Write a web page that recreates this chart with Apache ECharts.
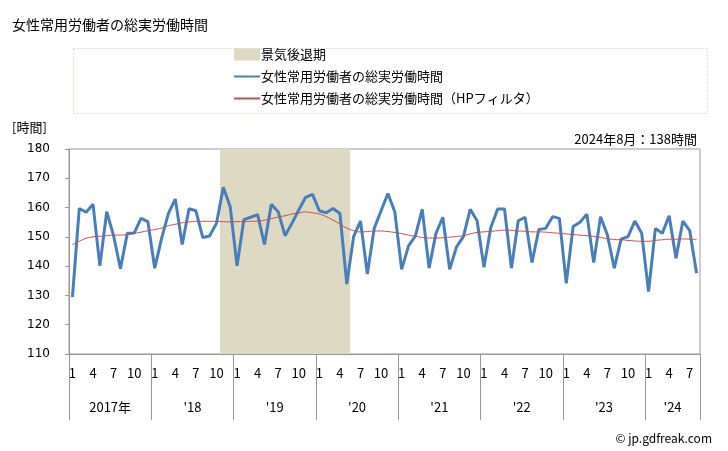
<!DOCTYPE html>
<html>
<head>
<meta charset="utf-8">
<script src="https://cdn.jsdelivr.net/npm/echarts@6/dist/echarts.min.js"></script>
<style>html,body{margin:0;padding:0;background:#fff}#c{width:728px;height:451px}</style>
</head>
<body>
<div id="c"></div>
<script>
// ---- data ----
const years = [2017, 2018, 2019, 2020, 2021, 2022, 2023, 2024];
const yearLabels = ['2017年', "'18", "'19", "'20", "'21", "'22", "'23", "'24"];
const monthTickLabels = [1, 4, 7, 10];
const hours = [
  129.4, 159.7, 158.4, 161.1, 140.1, 158.6, 150.4, 139.1, 151.2, 151.3, 156.3, 155.2,
  139.3, 149.5, 158.0, 162.9, 147.4, 159.6, 158.9, 149.8, 150.3, 154.6, 166.9, 160.3,
  140.1, 155.9, 156.7, 157.6, 147.4, 161.1, 158.6, 150.4, 154.6, 159.2, 163.5, 164.5,
  158.9, 158.2, 159.7, 158.0, 133.9, 150.1, 155.4, 137.3, 152.9, 158.9, 164.8, 158.6,
  138.9, 146.9, 150.3, 159.4, 139.3, 151.2, 156.7, 138.9, 146.6, 150.1, 159.4, 155.5,
  139.6, 153.2, 159.5, 159.5, 139.3, 155.5, 156.7, 141.2, 152.5, 152.9, 156.9, 156.3,
  134.1, 153.5, 155.0, 157.7, 141.2, 156.9, 150.6, 139.3, 149.2, 150.1, 155.4, 151.2,
  131.3, 152.9, 151.2, 157.2, 142.7, 155.4, 152.1, 137.6
];
const hpTrend = [
  147.4, 148.5, 149.5, 150.0, 150.2, 150.4, 150.6, 150.6, 150.8, 151.2, 151.6, 152.1,
  152.5, 153.0, 153.8, 154.3, 154.8, 155.1, 155.3, 155.3, 155.3, 155.3, 155.2, 155.1,
  155.2, 155.2, 155.3, 155.4, 155.7, 156.2, 156.8, 157.2, 157.8, 158.2, 158.5, 158.2,
  157.8, 156.9, 155.7, 154.4, 153.0, 152.1, 151.7, 151.8, 152.0, 152.0, 151.8, 151.5,
  151.1, 150.6, 150.2, 149.8, 149.6, 149.6, 149.7, 149.9, 150.1, 150.4, 151.0, 151.5,
  151.7, 151.9, 152.1, 152.3, 152.2, 152.0, 151.9, 151.7, 151.7, 151.6, 151.4, 151.2,
  151.0, 150.8, 150.6, 150.4, 150.2, 149.8, 149.4, 149.1, 149.0, 148.8, 148.6, 148.5,
  148.5, 148.8, 149.0, 149.2, 149.2, 149.3, 149.2, 149.1
];
const recessionFrom = '2018-11';
const recessionTo = '2020-05';
const yTicks = { min: 110, max: 180, interval: 10 };
const latestNote = '2024年8月：138時間';

// ---- build categories ----
const months = [];
for (const y of years) {
  for (let m = 1; m <= 12; m++) {
    if (months.length < hours.length) months.push(y + '-' + String(m).padStart(2, '0'));
  }
}
// boundary axis: positions 0..N (month edges)
const edges = [];
for (let i = 0; i <= months.length; i++) edges.push(i);
const yearStartIdx = years.map(y => months.indexOf(y + '-01'));
const yearMidIdx = years.map((y, k) => {
  const s = yearStartIdx[k];
  const e = k + 1 < years.length ? yearStartIdx[k + 1] : months.length;
  return (s + e) / 2;
});
const recStart = months.indexOf(recessionFrom);
const recEnd = months.indexOf(recessionTo) + 1;

const JP = '"Noto Sans CJK JP", sans-serif';
const NAME_REC = '景気後退期';
const NAME_LINE = '女性常用労働者の総実労働時間';
const NAME_HP = '女性常用労働者の総実労働時間（HPフィルタ）';
const HIDE_SYMBOL = { color: 'rgba(0,0,0,0)', borderColor: 'rgba(0,0,0,0)', borderWidth: 0 };

const chart = echarts.init(document.getElementById('c'), null, { renderer: 'canvas' });
chart.setOption({
  animation: false,
  backgroundColor: '#fff',
  title: [
    { text: NAME_LINE, left: 7, top: 13, textStyle: { fontFamily: JP, fontSize: 14, fontWeight: 'normal', color: '#000' } },
    { text: '[時間]', left: 7, top: 116, textStyle: { fontFamily: JP, fontSize: 13, fontWeight: 'normal', color: '#000' } },
    { text: latestNote, right: 26, top: 128, textStyle: { fontFamily: JP, fontSize: 13, fontWeight: 'normal', color: '#000' } },
    { text: '© jp.gdfreak.com', right: 11, top: 427, textStyle: { fontFamily: JP, fontSize: 12, fontWeight: 'normal', color: '#000' } }
  ],
  graphic: [{
    type: 'rect', left: 71, top: 46, shape: { width: 634, height: 65 },
    style: { fill: 'none', stroke: '#dcd8b8', lineWidth: 1, lineDash: [2, 2] }, z: -1
  }],
  legend: {
    orient: 'vertical', left: 228, top: 43, itemGap: 9, itemWidth: 26, itemHeight: 12,
    textStyle: { fontFamily: JP, fontSize: 13, color: '#000', padding: [0, 0, 0, -4] },
    data: [
      { name: NAME_REC, icon: 'rect', itemStyle: { color: '#ddd9c3' } },
      { name: NAME_LINE, itemStyle: HIDE_SYMBOL },
      { name: NAME_HP, itemStyle: HIDE_SYMBOL }
    ]
  },
  grid: { left: 69, right: 28, top: 149, bottom: 97, show: true, borderColor: '#999', borderWidth: 1 },
  xAxis: [
    {
      type: 'category', data: months, boundaryGap: true, position: 'bottom',
      axisLine: { lineStyle: { color: '#999' } },
      axisTick: { show: false },
      axisLabel: {
        interval: 0, margin: 13, fontFamily: JP, fontSize: 13, color: '#000',
        formatter: v => { const m = +v.slice(5); return monthTickLabels.includes(m) ? String(m) : ''; }
      }
    },
    {
      type: 'category', data: edges, boundaryGap: false, position: 'bottom', offset: 0,
      axisLine: { show: false },
      axisTick: {
        show: true, length: 66, lineStyle: { color: '#999' },
        interval: (i) => yearStartIdx.includes(i) || i === months.length
      },
      axisLabel: {
        interval: 0, margin: 47, fontFamily: JP, fontSize: 13, color: '#000',
        formatter: (v) => {
          const k = yearMidIdx.findIndex(x => Math.abs(x - (+v)) < 0.01);
          return k >= 0 ? yearLabels[k] : '';
        }
      },
      splitLine: { show: false }
    }
  ],
  yAxis: {
    type: 'value', min: yTicks.min, max: yTicks.max, interval: yTicks.interval,
    axisLine: { show: true, lineStyle: { color: '#999' } },
    axisTick: { show: true, length: 4, lineStyle: { color: '#999' } },
    axisLabel: { margin: 19, fontFamily: 'DejaVu Sans', fontSize: 12, color: '#000' },
    splitLine: { show: false }
  },
  series: [
    {
      name: NAME_REC, type: 'line', xAxisIndex: 1, data: [], symbol: 'none',
      itemStyle: { color: '#ddd9c3' }, lineStyle: { width: 0 }, silent: true,
      markArea: {
        silent: true, itemStyle: { color: '#ddd9c3', opacity: 1 },
        data: [[{ xAxis: recStart }, { xAxis: recEnd }]]
      },
      z: 1
    },
    {
      name: NAME_LINE, type: 'line', xAxisIndex: 0, data: hours, symbol: 'none',
      itemStyle: { color: '#4a7ebb' }, lineStyle: { color: '#4a7ebb', width: 3 }, z: 3
    },
    {
      name: NAME_HP, type: 'line', xAxisIndex: 0, data: hpTrend, symbol: 'none', smooth: true,
      itemStyle: { color: '#c0504d' }, lineStyle: { color: '#c0504d', width: 1 }, z: 4
    }
  ]
});
</script>
</body>
</html>
